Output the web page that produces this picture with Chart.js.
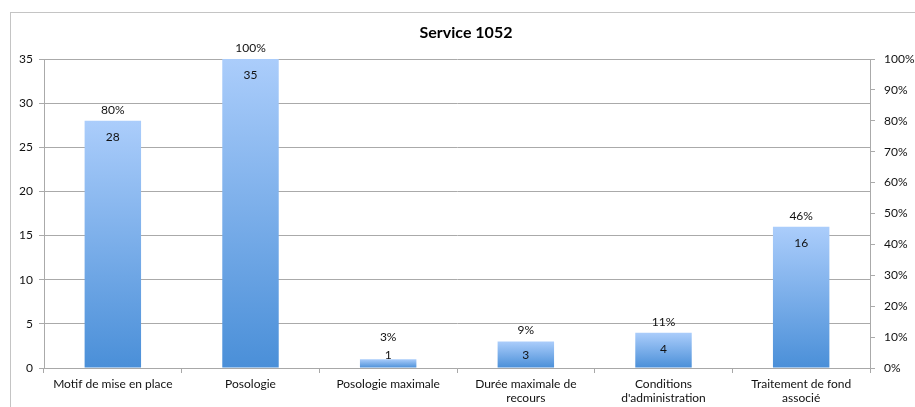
<!DOCTYPE html>
<html>
<head>
<meta charset="utf-8">
<script src="https://cdn.jsdelivr.net/npm/chart.js@4/dist/chart.umd.min.js"></script>
<style>
html,body{margin:0;padding:0;background:#fff;}
#wrap{width:915px;height:407px;position:relative;}
</style>
</head>
<body>
<div id="wrap"><canvas id="c" width="915" height="407"></canvas></div>
<script>
const title = "Service 1052";
const categories = [
  "Motif de mise en place",
  "Posologie",
  "Posologie maximale",
  ["Durée maximale de", "recours"],
  ["Conditions", "d'administration"],
  ["Traitement de fond", "associé"]
];
const counts = [28, 35, 1, 3, 4, 16];
const percentLabels = ["80%", "100%", "3%", "9%", "11%", "46%"];
const leftTicks = [0, 5, 10, 15, 20, 25, 30, 35];
const rightTicks = [0, 10, 20, 30, 40, 50, 60, 70, 80, 90, 100];

const FONT = "Lato, 'Open Sans', sans-serif";

function barGradient(ctx) {
  const chart = ctx.chart;
  const ys = chart.scales && chart.scales.y;
  if (!chart.chartArea || !ys || ctx.parsed === undefined) return '#7fb0ee';
  const top = ys.getPixelForValue(ctx.parsed.y);
  const bottom = ys.getPixelForValue(0);
  if (!isFinite(top) || !isFinite(bottom) || top === bottom) return '#7fb0ee';
  const g = chart.ctx.createLinearGradient(0, top, 0, bottom);
  g.addColorStop(0, '#abcdfb');
  g.addColorStop(1, '#4a8fd8');
  return g;
}

const framePlugin = {
  id: 'frame',
  beforeDraw(chart) {
    const c = chart.ctx;
    c.save();
    c.strokeStyle = '#c4c4c4';
    c.lineWidth = 1;
    c.strokeRect(10.5, 12.5, 920, 420);
    c.fillStyle = '#000';
    c.font = 'bold 16px ' + FONT;
    c.textAlign = 'center';
    c.textBaseline = 'middle';
    c.fillText(title, 466, 33);
    c.restore();
  }
};

const labelPlugin = {
  id: 'labels',
  afterDatasetsDraw(chart) {
    const c = chart.ctx;
    const meta = chart.getDatasetMeta(0);
    const bottom = chart.scales.y.getPixelForValue(0);
    c.save();
    c.fillStyle = '#111';
    c.font = '12px ' + FONT;
    c.textAlign = 'center';
    c.textBaseline = 'middle';
    meta.data.forEach((bar, i) => {
      const vy = Math.min(bar.y + 16, bottom - 13);
      c.fillText(String(counts[i]), bar.x, vy);
      const py = Math.min(bar.y - 11, vy - 18);
      c.fillText(percentLabels[i], bar.x, py);
    });
    c.restore();
  }
};

new Chart(document.getElementById('c'), {
  type: 'bar',
  data: {
    labels: categories,
    datasets: [{
      data: counts,
      backgroundColor: barGradient,
      borderWidth: 0,
      categoryPercentage: 1,
      barPercentage: 0.41
    }]
  },
  options: {
    responsive: false,
    animation: false,
    events: [],
    layout: { padding: { left: 10, right: 0, top: 59, bottom: 0 } },
    plugins: { legend: { display: false }, tooltip: { enabled: false }, title: { display: false } },
    scales: {
      x: {
        grid: { display: true, drawOnChartArea: false, drawTicks: true, tickLength: 5, color: '#a8a8a8', offset: true },
        border: { display: true, color: '#a8a8a8' },
        ticks: { color: '#111', font: { family: FONT, size: 12 }, padding: 4, maxRotation: 0, autoSkip: false },
        afterFit(s) { s.height = 39; }
      },
      y: {
        min: 0, max: 35,
        afterBuildTicks(s) { s.ticks = leftTicks.map(v => ({ value: v })); },
        grid: { color: '#aaaaaa', drawTicks: true, tickLength: 5 },
        border: { display: true, color: '#aaaaaa' },
        ticks: { color: '#111', font: { family: FONT, size: 12 }, padding: 6 },
        afterFit(s) { s.width = 34; }
      },
      y2: {
        position: 'right',
        min: 0, max: 100,
        afterBuildTicks(s) { s.ticks = rightTicks.map(v => ({ value: v })); },
        grid: { drawOnChartArea: false, drawTicks: true, tickLength: 5, color: '#aaaaaa' },
        border: { display: true, color: '#aaaaaa' },
        ticks: { color: '#111', font: { family: FONT, size: 12 }, padding: 9, callback: v => v + '%' },
        afterFit(s) { s.width = 45; }
      }
    }
  },
  plugins: [framePlugin, labelPlugin]
});
</script>
</body>
</html>
